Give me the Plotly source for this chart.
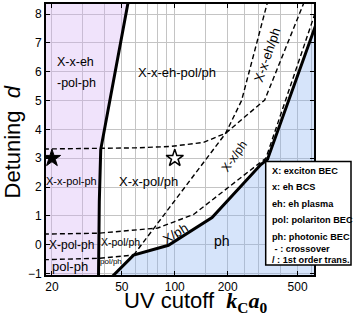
import math
import plotly.graph_objects as go

# ---- data ----
x_tickvals = [20, 50, 100, 200, 500]
x_ticktext = ["20", "50", "100", "200", "500"]
x_gridvals = [30, 40, 60, 70, 80, 90, 150, 250, 300, 400, 600]
y_tickvals = [-1, 0, 1, 2, 3, 4, 5, 6, 7, 8]

# thick boundary (1st order) left: pink region
pink_x = [36.8, 37.2, 37.9, 54.6]
pink_y = [-1.2, 1.5, 3.3, 8.5]
# thick boundary (1st order) right: photonic region
blue_x = [42.5, 58.3, 92, 163, 309, 337, 650]
blue_y = [-1.2, -0.36, -0.02, 0.94, 2.78, 2.96, 7.8]
# crossover lines
dashA_x = [18, 60, 95, 146, 195, 325, 552]
dashA_y = [3.32, 3.36, 3.41, 3.55, 3.87, 5.02, 8.5]
dashB_x = [58.3, 195, 240, 340]
dashB_y = [-0.36, 3.87, 5.0, 8.5]
dashC_x = [18, 37, 80, 128, 296, 330, 609, 650]
dashC_y = [0.37, 0.40, 0.58, 1.05, 2.78, 3.0, 7.78, 8.3]
dashD_x = [18, 37, 58.3]
dashD_y = [-0.52, -0.47, -0.36]
# stars
star_black_x = [20]
star_black_y = [3]
star_white_x = [100]
star_white_y = [3]

FONT = "Liberation Sans, Arial, sans-serif"
PINK = "rgba(212,175,243,0.35)"
BLUE = "rgba(138,178,241,0.35)"

fig = go.Figure()
fig.add_trace(go.Scatter(x=pink_x + [10, 10], y=pink_y + [8.5, -1.2], fill="toself",
                         fillcolor=PINK, mode="lines", line=dict(width=0), hoverinfo="skip"))
fig.add_trace(go.Scatter(x=blue_x + [650], y=blue_y + [-1.2], fill="toself",
                         fillcolor=BLUE, mode="lines", line=dict(width=0), hoverinfo="skip"))
for xs, ys in [(dashA_x, dashA_y), (dashB_x, dashB_y), (dashC_x, dashC_y), (dashD_x, dashD_y)]:
    fig.add_trace(go.Scatter(x=xs, y=ys, mode="lines",
                             line=dict(color="black", width=1.4, dash="5px,3px")))
for xs, ys in [(pink_x, pink_y), (blue_x, blue_y)]:
    fig.add_trace(go.Scatter(x=xs, y=ys, mode="lines", line=dict(color="black", width=3)))
fig.add_trace(go.Scatter(x=star_black_x, y=star_black_y, mode="markers",
                         marker=dict(symbol="star", size=13, color="black",
                                     line=dict(color="black", width=1))))
fig.add_trace(go.Scatter(x=star_white_x, y=star_white_y, mode="markers",
                         marker=dict(symbol="star", size=13, color="white",
                                     line=dict(color="black", width=1.5))))

def lab(text, x, y, size, angle=0, xanchor="center"):
    return dict(text=text, x=math.log10(x), y=y, xref="x", yref="y", showarrow=False,
                font=dict(family=FONT, size=size, color="black"), textangle=angle,
                xanchor=xanchor, yanchor="middle")

annots = [
    lab("X-x-eh", 20.8, 6.34, 12.5, xanchor="left"),
    lab("-pol-ph", 20.8, 5.62, 12.5, xanchor="left"),
    lab("X-x-eh-pol/ph", 103.6, 5.98, 13),
    lab("X-x-pol-ph", 26.0, 2.2, 11),
    lab("X-x-pol/ph", 70.7, 2.18, 13),
    lab("X-pol-ph", 26.0, 0.0, 12),
    lab("X-pol/ph", 48.9, 0.11, 10.5),
    lab("pol-ph", 25.3, -0.76, 13),
    lab("pol/ph", 43.5, -0.59, 8),
    lab("X/ph", 100.9, 0.39, 13, angle=-32),
    lab("X-x/ph", 219, 3.07, 12, angle=-55),
    lab("X-x-eh/ph", 337, 6.59, 13, angle=-71),
    lab("ph", 186.7, 0.14, 14),
]

# plot area in pixels: x 46..314, y 2..275
def px(xp):
    return (xp - 46) / 268.0

def py(yp):
    return (275 - yp) / 273.0

legend_lines = ["X: exciton BEC", "x: eh BCS", "eh: eh plasma", "pol: polariton BEC",
                "ph: photonic BEC", " - : crossover", "/ : 1st order trans."]
legend_py = [170.7, 186.7, 203.3, 220, 236.7, 249, 260]
for t, yp in zip(legend_lines, legend_py):
    annots.append(dict(text="<b>" + t + "</b>", x=px(269.5), y=py(yp), xref="paper", yref="paper",
                       showarrow=False, xanchor="left", yanchor="middle",
                       font=dict(family=FONT, size=9.2, color="black")))

annots.append(dict(text='UV cutoff  <span style="font-family:Liberation Serif, Times New Roman, serif">'
                        '<b><i>k</i><sub>C</sub><i>a</i><sub>0</sub></b></span>',
                   x=px(195), y=py(302.5), xref="paper", yref="paper", showarrow=False,
                   xanchor="center", yanchor="middle", font=dict(family=FONT, size=22, color="black")))
annots.append(dict(text="Detuning  <i>d</i>", x=px(12.5), y=py(141), xref="paper", yref="paper",
                   showarrow=False, textangle=-90, xanchor="center", yanchor="middle",
                   font=dict(family=FONT, size=22, color="black")))

fig.update_layout(
    width=353, height=316,
    margin=dict(l=46, r=39, t=2, b=41),
    paper_bgcolor="white", plot_bgcolor="white",
    showlegend=False,
    annotations=annots,
    shapes=[dict(type="rect", xref="paper", yref="paper", x0=px(265.7), x1=px(351),
                 y0=py(265), y1=py(160.7), line=dict(color="black", width=1.5),
                 fillcolor="white", layer="above")],
    font=dict(family=FONT, size=12, color="black"),
)
fig.update_xaxes(type="log", range=[math.log10(18.5), math.log10(620)],
                 tickmode="array", tickvals=x_tickvals, ticktext=x_ticktext,
                 ticks="inside", ticklen=4, tickwidth=1.2, tickcolor="black",
                 showline=True, linewidth=2, linecolor="black", mirror="ticks",
                 showgrid=True, gridcolor="#c4c4c4", gridwidth=1, zeroline=False,
                 minor=dict(tickmode="array", tickvals=x_gridvals, showgrid=True,
                            gridcolor="#c4c4c4", gridwidth=1, ticks=""),
                 tickfont=dict(family=FONT, size=12, color="black"))
fig.update_yaxes(range=[-1.05, 8.35], tickmode="array", tickvals=y_tickvals,
                 ticks="inside", ticklen=4, tickwidth=1.2, tickcolor="black",
                 showline=True, linewidth=2, linecolor="black", mirror="ticks",
                 showgrid=True, gridcolor="#c4c4c4", gridwidth=1, zeroline=False,
                 tickfont=dict(family=FONT, size=12, color="black"))

fig.write_html("out.html", config={"displayModeBar": False},
               post_script="document.body.style.margin='0px';document.body.style.overflow='hidden';")
